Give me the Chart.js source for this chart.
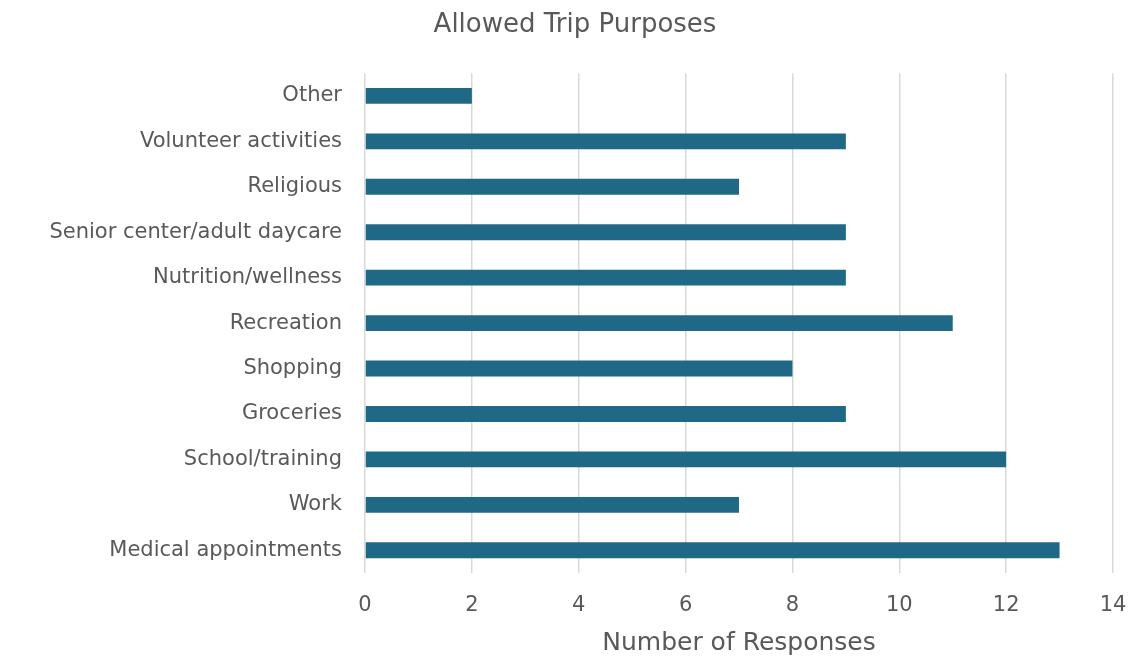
<!DOCTYPE html>
<html>
<head>
<meta charset="utf-8">
<script src="https://cdn.jsdelivr.net/npm/chart.js@4"></script>
<style>
  html, body { margin: 0; padding: 0; background: #fff; }
  #wrap { width: 1130px; height: 658px; }
</style>
</head>
<body>
<div id="wrap"><canvas id="myChart"></canvas></div>
<script>
const purposes = [
  "Other",
  "Volunteer activities",
  "Religious",
  "Senior center/adult daycare",
  "Nutrition/wellness",
  "Recreation",
  "Shopping",
  "Groceries",
  "School/training",
  "Work",
  "Medical appointments"
];
const responses = [2, 9, 7, 9, 9, 11, 8, 9, 12, 7, 13];
const xTicks = [0, 2, 4, 6, 8, 10, 12, 14];

const textGrey = "#595959";
const gridGrey = "#d9d9d9";
const fontFamily = "'DejaVu Sans', sans-serif";

const ctx = document.getElementById("myChart").getContext("2d");

const data = {
  labels: purposes,
  datasets: [
    {
      data: responses,
      backgroundColor: "#1f6886",
      borderWidth: 0,
      barPercentage: 0.7,
      categoryPercentage: 0.5
    }
  ]
};

const config = {
  type: "bar",
  data: data,
  options: {
    indexAxis: "y",
    responsive: true,
    maintainAspectRatio: false,
    animation: false,
    layout: {
      // left padding pushes the title centre to the right a bit
      padding: { left: 37, right: 17, top: 0, bottom: 0 }
    },
    plugins: {
      legend: { display: false },
      tooltip: { enabled: false },
      title: {
        display: true,
        text: "Allowed Trip Purposes",
        color: textGrey,
        font: { family: fontFamily, size: 26, weight: "normal" },
        padding: { top: 10, bottom: 32 }
      }
    },
    scales: {
      x: {
        min: 0,
        max: 14,
        afterBuildTicks: (scale) => {
          scale.ticks = xTicks.map((v) => ({ value: v }));
        },
        afterFit: (scale) => {
          scale.height = 85;
          scale.paddingLeft = 0;
          scale.paddingRight = 0;
        },
        grid: {
          color: gridGrey,
          lineWidth: 1.5,
          drawTicks: false
        },
        border: { display: false },
        ticks: {
          color: textGrey,
          padding: 20,
          font: { family: fontFamily, size: 21 }
        },
        title: {
          display: true,
          text: "Number of Responses",
          color: textGrey,
          font: { family: fontFamily, size: 25 },
          padding: { top: 6, bottom: 0 }
        }
      },
      y: {
        afterFit: (scale) => {
          scale.width = 328;
          scale.paddingTop = 0;
          scale.paddingBottom = 0;
        },
        grid: { display: false },
        border: { display: false },
        ticks: {
          color: textGrey,
          padding: 15,
          font: { family: fontFamily, size: 21 }
        }
      }
    }
  }
};

const myChart = new Chart(ctx, config);
</script>
</body>
</html>
